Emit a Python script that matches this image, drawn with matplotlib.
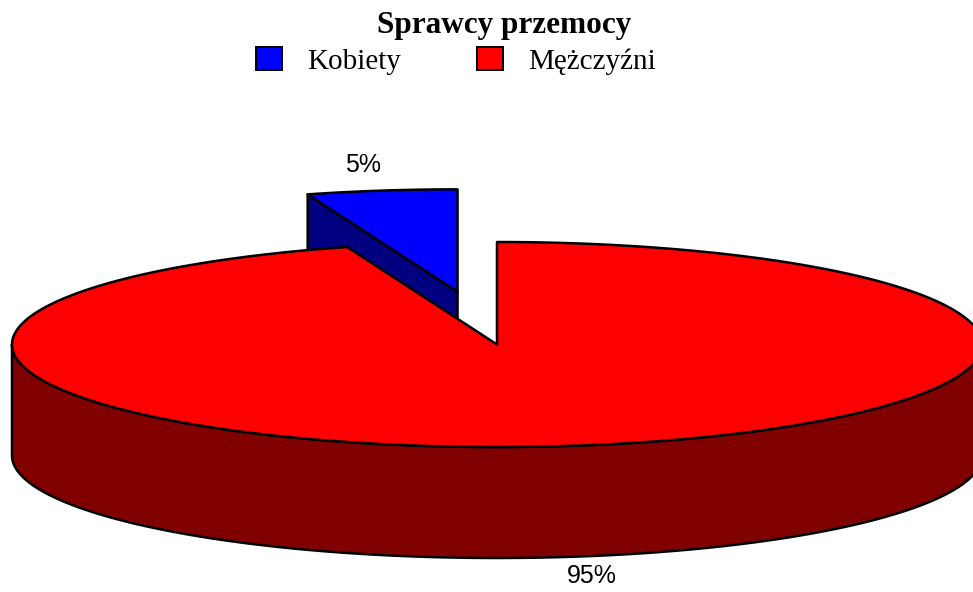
import numpy as np
import matplotlib.pyplot as plt
from matplotlib.patches import Patch

# Dane
labels = ['Kobiety', 'Mężczyźni']
values = [5, 95]
top_colors = ['#0000ff', '#ff0000']
side_colors = ['#000080', '#800000']
explode = [0.52, 0.0]

# Geometria wykresu 3D (piksele)
CX, CY, RX, RY, DEPTH = 497, 344.5, 485, 102.5, 111
START = 90


def pt(theta, r=1.0, off=(0.0, 0.0), z=0.0):
    t = np.radians(theta)
    return CX + RX * (off[0] + r * np.cos(t)), CY - RY * (off[1] + r * np.sin(t)) + z


fig = plt.figure(figsize=(9.73, 5.92), dpi=100)
ax = fig.add_axes([0, 0, 1, 1])
ax.set_xlim(0, 973)
ax.set_ylim(592, 0)
ax.axis('off')

style = dict(edgecolor='black', linewidth=1.8, joinstyle='round')

fractions = np.array(values) / sum(values)
angles = START + 360 * np.concatenate([[0], np.cumsum(fractions)])

for i in range(len(values)):
    a, b = angles[i], angles[i + 1]
    m = (a + b) / 2
    off = (explode[i] * np.cos(np.radians(m)), explode[i] * np.sin(np.radians(m)))
    c0 = pt(0, 0, off)

    # sciany promieniowe
    for ang, vis in ((a, np.cos(np.radians(a)) > 1e-9), (b, np.cos(np.radians(b)) < -1e-9)):
        if vis:
            e = pt(ang, 1, off)
            xs = [c0[0], e[0], e[0], c0[0]]
            ys = [c0[1], e[1], e[1] + DEPTH, c0[1] + DEPTH]
            ax.fill(xs, ys, facecolor=side_colors[i], **style)

    # sciana boczna (przod)
    for k in (180, 540):
        lo, hi = max(a, k), min(b, k + 180)
        if hi > lo:
            th = np.linspace(lo, hi, 300)
            x, y = pt(th, 1, off)
            ax.fill(np.concatenate([x, x[::-1]]), np.concatenate([y, y[::-1] + DEPTH]),
                    facecolor=side_colors[i], **style)

    # gorna powierzchnia
    th = np.linspace(a, b, 400)
    x, y = pt(th, 1, off)
    ax.fill(np.concatenate([[c0[0]], x]), np.concatenate([[c0[1]], y]),
            facecolor=top_colors[i], **style)

    # etykieta procentowa
    lx, ly = pt(m, 1.25 + explode[i])
    if np.sin(np.radians(m)) < 0:
        ly += DEPTH - 6
    ax.text(lx, ly, '%.0f%%' % (fractions[i] * 100), ha='center', va='center',
            fontsize=18, family='Liberation Sans')

# Tytul
fig.text(504 / 973, 1 - 25 / 592, 'Sprawcy przemocy', ha='center', va='center',
         fontsize=22.5, fontweight='bold', family='Liberation Serif')

# Legenda
handles = [Patch(facecolor=c, edgecolor='black', linewidth=1.4) for c in top_colors]
fig.legend(handles, labels, loc='center', bbox_to_anchor=(456 / 973, 1 - 61 / 592),
           ncol=2, frameon=False, prop={'family': 'Liberation Serif', 'size': 21},
           handlelength=0.9, handleheight=0.85, handletextpad=0.85, columnspacing=2.6,
           borderpad=0)

fig.savefig('out.png', dpi=100)
